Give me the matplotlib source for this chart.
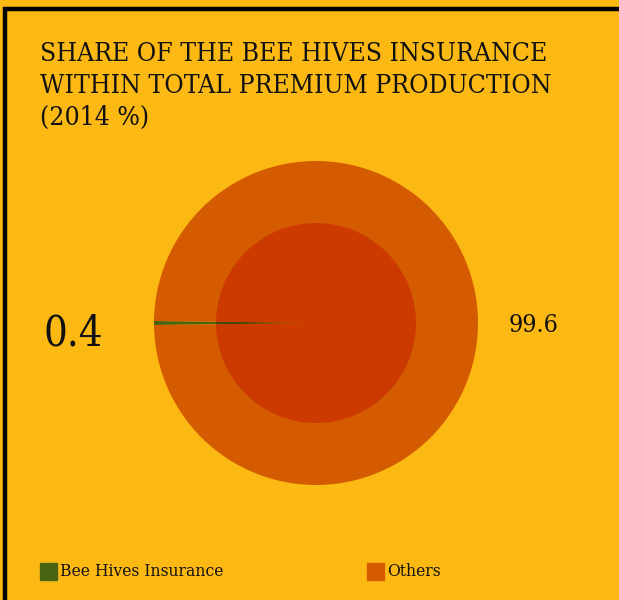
import matplotlib.pyplot as plt
from matplotlib.lines import Line2D
from matplotlib.patches import Rectangle

# data
labels = ['Bee Hives Insurance', 'Others']
shares = [0.4, 99.6]
outer_colors = ['#4B6414', '#D45B00']
inner_colors = ['#3F4A0C', '#CC3A00']
bg = '#FDB913'

W, H = 619, 600
fig = plt.figure(figsize=(W / 100, H / 100), dpi=100, facecolor=bg)

def fx(x):
    return x / W

def fy(y):
    return 1 - y / H

# frame lines (top and left)
fig.add_artist(Line2D([fx(3), 1], [fy(8.5), fy(8.5)], color='black', lw=3.2,
                      solid_capstyle='butt'))
fig.add_artist(Line2D([fx(5), fx(5)], [fy(7), 0], color='black', lw=3.2,
                      solid_capstyle='butt'))

font = 'DejaVu Serif'
fig.text(fx(40), fy(41), 'SHARE OF THE BEE HIVES INSURANCE\nWITHIN TOTAL PREMIUM PRODUCTION\n(2014 %)',
         ha='left', va='top', fontsize=19, family=font, fontstretch='condensed',
         linespacing=1.36, color='#111111')

# pie
cx, cy, r = 316, 323, 162
ax = fig.add_axes([fx(cx - r), fy(cy + r), 2 * r / W, 2 * r / H])
ax.set_facecolor('none')
start = 180 - shares[0] / 100 * 360 / 2
ax.pie(shares, colors=outer_colors, radius=1, startangle=start, counterclock=True,
       wedgeprops=dict(linewidth=0))
ax.pie(shares, colors=inner_colors, radius=100 / r, startangle=start, counterclock=True,
       wedgeprops=dict(linewidth=0))
ax.set_xlim(-1, 1)
ax.set_ylim(-1, 1)
ax.set_aspect('equal')
ax.axis('off')

# value labels
fig.text(fx(43), fy(333), f'{shares[0]}', ha='left', va='center', fontsize=30,
         family=font, fontstretch='condensed', color='#111111')
fig.text(fx(509), fy(326), f'{shares[1]}', ha='left', va='center', fontsize=18,
         family=font, fontstretch='condensed', color='#111111')

# legend
leg_x = [40, 367]
for i, lab in enumerate(labels):
    fig.add_artist(Rectangle((fx(leg_x[i]), fy(580)), 17 / W, 17 / H,
                             color=outer_colors[i], transform=fig.transFigure))
    fig.text(fx(leg_x[i] + 20), fy(572), lab, ha='left', va='center', fontsize=12.5,
             family=font, fontstretch='condensed', color='#111111')

fig.savefig('out.png', dpi=100, facecolor=bg)
